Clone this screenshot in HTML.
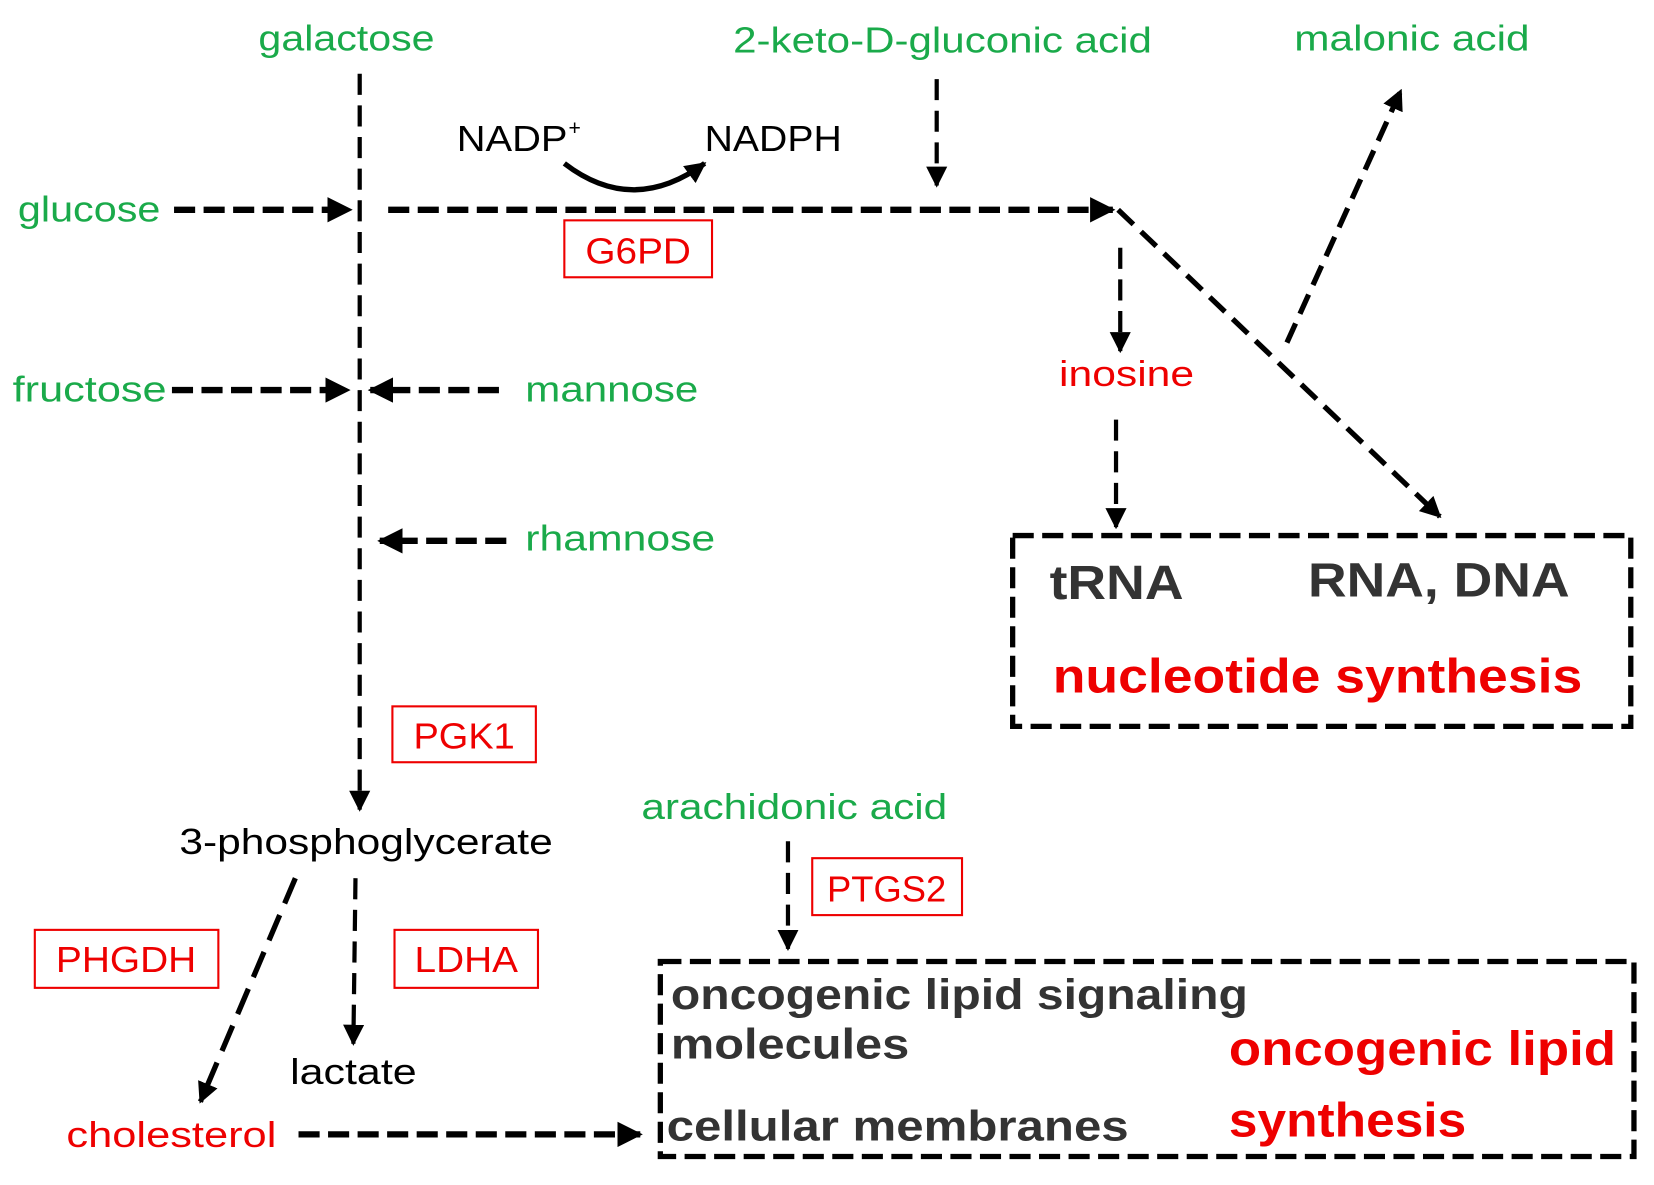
<!DOCTYPE html>
<html><head><meta charset="utf-8"><style>html,body{margin:0;padding:0;background:#fff}svg{display:block}</style></head>
<body>
<svg width="1654" height="1185" viewBox="0 0 1568 1124" preserveAspectRatio="none" xmlns="http://www.w3.org/2000/svg" font-family="Liberation Sans, sans-serif">
<defs>
<marker id="a" viewBox="0 0 10 10" refX="9" refY="5" markerWidth="4" markerHeight="4" orient="auto" markerUnits="strokeWidth"><path d="M0,0L10,5L0,10z" fill="#000"/></marker>
<marker id="b" viewBox="0 0 10 10" refX="9" refY="5" markerWidth="5" markerHeight="5" orient="auto" markerUnits="strokeWidth"><path d="M0,0L10,5L0,10z" fill="#000"/></marker>
</defs>
<g fill="none" stroke="#000">
<!-- vertical main -->
<line x1="341" y1="70" x2="341" y2="768" stroke-width="4" stroke-dasharray="20,10" marker-end="url(#b)"/>
<line x1="165" y1="199" x2="332" y2="199" stroke-width="6" stroke-dasharray="20,8" marker-end="url(#a)"/>
<line x1="368" y1="199" x2="1055" y2="199" stroke-width="6" stroke-dasharray="20,8" marker-end="url(#a)"/>
<path d="M535,155 Q600,205 668,155" stroke-width="5" marker-end="url(#a)"/>
<line x1="888" y1="75" x2="888" y2="176" stroke-width="4" stroke-dasharray="20,10" marker-end="url(#b)"/>
<line x1="1220" y1="325" x2="1328" y2="86" stroke-width="5" stroke-dasharray="20,10" marker-end="url(#a)"/>
<line x1="1060" y1="199" x2="1365" y2="490" stroke-width="5" stroke-dasharray="20,10" marker-end="url(#a)"/>
<line x1="1062" y1="235" x2="1062" y2="333" stroke-width="4" stroke-dasharray="20,10" marker-end="url(#b)"/>
<line x1="1058" y1="398" x2="1058" y2="500" stroke-width="4" stroke-dasharray="20,10" marker-end="url(#b)"/>
<line x1="163" y1="370" x2="330" y2="370" stroke-width="6" stroke-dasharray="20,8" marker-end="url(#a)"/>
<line x1="473" y1="370" x2="351" y2="370" stroke-width="6" stroke-dasharray="20,8" marker-end="url(#a)"/>
<line x1="480" y1="513" x2="360" y2="513" stroke-width="6" stroke-dasharray="20,8" marker-end="url(#a)"/>
<line x1="280" y1="833" x2="190" y2="1045" stroke-width="5" stroke-dasharray="26,12" marker-end="url(#a)"/>
<line x1="337" y1="833" x2="335" y2="990" stroke-width="4" stroke-dasharray="20,10" marker-end="url(#b)"/>
<line x1="283" y1="1076" x2="607" y2="1076" stroke-width="6" stroke-dasharray="20,8" marker-end="url(#a)"/>
<line x1="747" y1="798" x2="747" y2="900" stroke-width="4" stroke-dasharray="20,10" marker-end="url(#b)"/>
<rect x="960" y="508" width="586" height="181" stroke-width="5" stroke-dasharray="20,8"/>
<rect x="626" y="912" width="923" height="185" stroke-width="5" stroke-dasharray="20,8"/>
</g>
<g fill="none" stroke="#e00" stroke-width="2">
<rect x="535" y="209" width="140" height="54"/>
<rect x="372" y="670" width="136" height="53"/>
<rect x="33" y="882" width="174" height="55"/>
<rect x="374" y="882" width="136" height="55"/>
<rect x="770" y="814" width="142" height="54"/>
</g>
<g font-size="34" lengthAdjust="spacingAndGlyphs">
<g fill="#1aaa4a">
<text x="245" y="48" textLength="167" lengthAdjust="spacingAndGlyphs">galactose</text>
<text x="695" y="50" textLength="397" lengthAdjust="spacingAndGlyphs">2-keto-D-gluconic acid</text>
<text x="1227" y="48" textLength="223" lengthAdjust="spacingAndGlyphs">malonic acid</text>
<text x="17" y="210" textLength="135" lengthAdjust="spacingAndGlyphs">glucose</text>
<text x="12" y="381" textLength="146" lengthAdjust="spacingAndGlyphs">fructose</text>
<text x="498" y="381" textLength="164" lengthAdjust="spacingAndGlyphs">mannose</text>
<text x="498" y="522" textLength="180" lengthAdjust="spacingAndGlyphs">rhamnose</text>
<text x="608" y="777" textLength="290" lengthAdjust="spacingAndGlyphs">arachidonic acid</text>
</g>
<g fill="#000">
<text x="433" y="143" textLength="105" lengthAdjust="spacingAndGlyphs">NADP</text>
<text x="539" y="128" font-size="20">+</text>
<text x="668" y="143" textLength="130" lengthAdjust="spacingAndGlyphs">NADPH</text>
<text x="170" y="810" textLength="354" lengthAdjust="spacingAndGlyphs">3-phosphoglycerate</text>
<text x="275" y="1028" textLength="120" lengthAdjust="spacingAndGlyphs">lactate</text>
</g>
<g fill="#e00">
<text x="555" y="250" textLength="100" lengthAdjust="spacingAndGlyphs">G6PD</text>
<text x="1004" y="366" textLength="128" lengthAdjust="spacingAndGlyphs">inosine</text>
<text x="392" y="710" textLength="96" lengthAdjust="spacingAndGlyphs">PGK1</text>
<text x="53" y="922" textLength="133" lengthAdjust="spacingAndGlyphs">PHGDH</text>
<text x="393" y="922" textLength="98" lengthAdjust="spacingAndGlyphs">LDHA</text>
<text x="784" y="855" textLength="113" lengthAdjust="spacingAndGlyphs">PTGS2</text>
<text x="63" y="1088" textLength="199" lengthAdjust="spacingAndGlyphs">cholesterol</text>
</g>
<g font-weight="bold" fill="#333">
<text x="995" y="568" font-size="46" textLength="127" lengthAdjust="spacingAndGlyphs">tRNA</text>
<text x="1240" y="566" font-size="46" textLength="248" lengthAdjust="spacingAndGlyphs">RNA, DNA</text>
<text x="636" y="957" font-size="40" textLength="547" lengthAdjust="spacingAndGlyphs">oncogenic lipid signaling</text>
<text x="636" y="1004" font-size="40" textLength="226" lengthAdjust="spacingAndGlyphs">molecules</text>
<text x="632" y="1082" font-size="40" textLength="438" lengthAdjust="spacingAndGlyphs">cellular membranes</text>
</g>
<g font-weight="bold" fill="#e00" font-size="46">
<text x="998" y="657" textLength="502" lengthAdjust="spacingAndGlyphs">nucleotide synthesis</text>
<text x="1165" y="1010" textLength="367" lengthAdjust="spacingAndGlyphs">oncogenic lipid</text>
<text x="1165" y="1078" textLength="225" lengthAdjust="spacingAndGlyphs">synthesis</text>
</g>
</g>
</svg>
</body></html>
